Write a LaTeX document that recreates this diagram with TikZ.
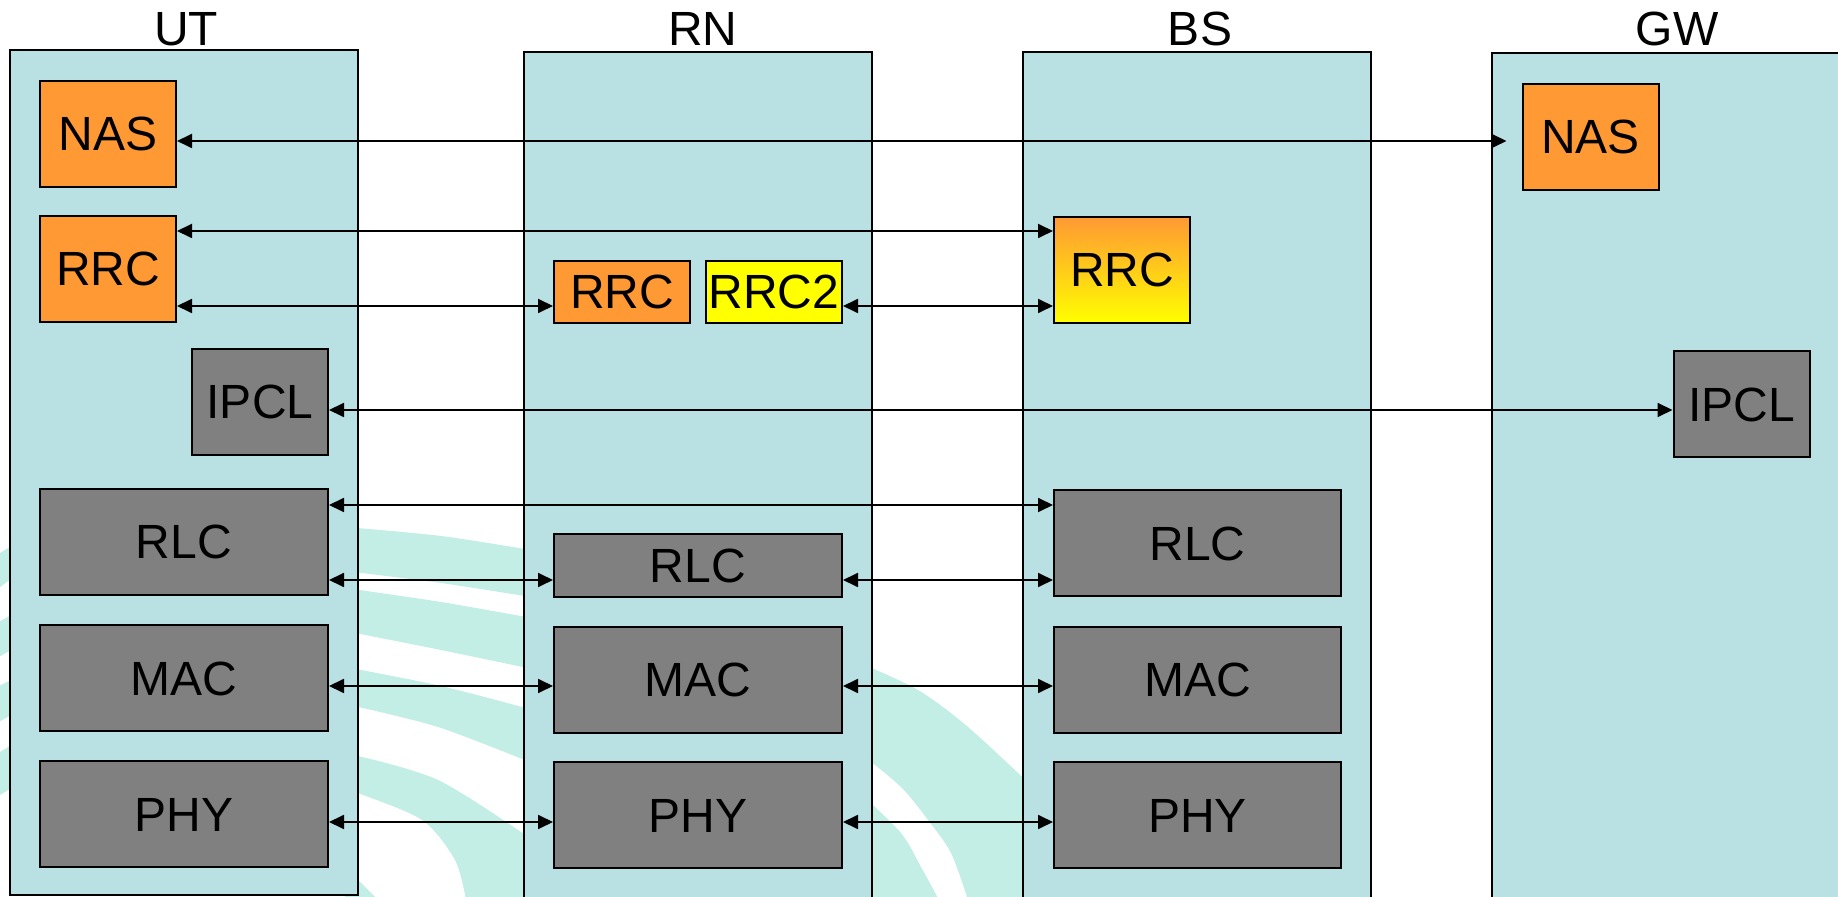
\documentclass[tikz,border=0pt]{standalone}
\usepackage{fontspec}
\setmainfont{Liberation Sans}
\usetikzlibrary{arrows.meta}
\definecolor{colbg}{HTML}{B9E0E3}
\definecolor{orng}{HTML}{FF9933}
\definecolor{gry}{HTML}{808080}
\definecolor{ylw}{HTML}{FFFF00}
\definecolor{wmark}{HTML}{C3EEE6}
\begin{document}
\begin{tikzpicture}[x=0.5pt,y=-0.5pt,
  bigfont/.style={font=\fontsize{24}{28}\selectfont},
  lbl/.style={bigfont, inner sep=0pt, anchor=base},
  col/.style={draw=black, line width=1pt, fill=colbg, inner sep=0pt},
  blk/.style={draw=black, line width=1pt, inner sep=0pt, bigfont},
  sq/.style={blk, minimum width=68pt, minimum height=53pt},
  wide/.style={blk, minimum width=144pt, minimum height=53pt},
  small/.style={blk, minimum width=68pt, minimum height=31pt},
  arr/.style={line width=0.9pt, {Triangle[length=7.5pt,width=7pt]}-{Triangle[length=7.5pt,width=7pt]}},
  wm/.style={fill=wmark}
]
\useasboundingbox (0,0) rectangle (1838,897);
\clip (0,0) rectangle (1838,897);
\fill[white] (0,0) rectangle (1838,897);

% watermark arcs (visible in the gaps)
\fill[wm] plot[smooth] coordinates {(345,527)(441,536)(537,551)} -- plot[smooth] coordinates {(537,598)(441,583)(345,571)} -- cycle;
\fill[wm] plot[smooth] coordinates {(345,588)(441,602)(537,619)} -- plot[smooth] coordinates {(537,670)(441,650)(345,631)} -- cycle;
\fill[wm] plot[smooth] coordinates {(345,667)(441,686)(537,711)} -- plot[smooth] coordinates {(537,765)(438,727)(345,704)} -- cycle;
\fill[wm] plot[smooth] coordinates {(345,753)(438,780)(537,843)} -- (537,900) -- plot[smooth] coordinates {(466,900)(455,860)(422,820)(358,793)(345,789)} -- cycle;
\fill[wm] (345,868) -- (358,880) -- (378,900) -- (345,900) -- cycle;
\fill[wm] plot[smooth] coordinates {(860,663)(918,690)(968,727)(1035,789)} -- (1035,900) -- plot[smooth] coordinates {(968,900)(951,853)(928,820)(901,787)(860,753)} -- cycle;
\fill[wm] plot[smooth] coordinates {(860,793)(901,833)(921,867)(939,900)} -- (860,900) -- cycle;
\fill[wm] (-5,556) -- (15,544) -- (15,576) -- (-5,591) -- cycle;
\fill[wm] (-5,624) -- (15,613) -- (15,648) -- (-5,659) -- cycle;
\fill[wm] (-5,688) -- (15,678) -- (15,713) -- (-5,724) -- cycle;
\fill[wm] (-5,755) -- (15,743) -- (15,786) -- (-5,798) -- cycle;

% columns
\node[col, minimum width=174pt, minimum height=422.5pt] (ut) at (184,472.5) {};
\node[col, minimum width=174pt, minimum height=426.5pt] (rn) at (698,478.5) {};
\node[col, minimum width=174pt, minimum height=426.5pt] (bs) at (1197,478.5) {};
\node[col, minimum width=176.5pt, minimum height=426pt] (gw) at (1668.5,479) {};

% column labels
\node[lbl] (utl) at (186,46) {UT};
\node[lbl] (rnl) at (703,46) {RN};
\node[lbl] (bsl) at (1200,46) {BS};
\node[lbl] (gwl) at (1677,46) {GW};

% UT stack
\node[sq, fill=orng] (utnas) at (108,134) {NAS};
\node[sq, fill=orng] (utrrc) at (108,269) {RRC};
\node[sq, fill=gry] (utipcl) at (260,402) {IPCL};
\node[wide, fill=gry] (utrlc) at (184,542) {RLC};
\node[wide, fill=gry] (utmac) at (184,678.5) {MAC};
\node[wide, fill=gry] (utphy) at (184,814.5) {PHY};

% RN stack
\node[small, fill=orng] (rnrrc) at (622,292) {RRC};
\node[small, fill=ylw] (rnrrc2) at (774,292) {RRC2};
\node[wide, fill=gry, minimum height=31.5pt] (rnrlc) at (698,565.5) {RLC};
\node[wide, fill=gry] (rnmac) at (698,680) {MAC};
\node[wide, fill=gry] (rnphy) at (698,815.5) {PHY};

% BS stack
\node[sq, top color=orng, bottom color=ylw, draw=black] (bsrrc) at (1122,270) {RRC};
\node[wide, fill=gry, minimum width=143.5pt] (bsrlc) at (1197.5,543.5) {RLC};
\node[wide, fill=gry, minimum width=143.5pt] (bsmac) at (1197.5,680) {MAC};
\node[wide, fill=gry, minimum width=143.5pt] (bsphy) at (1197.5,815.5) {PHY};

% GW stack
\node[sq, fill=orng] (gwnas) at (1590.5,137) {NAS};
\node[sq, fill=gry] (gwipcl) at (1741.5,404.5) {IPCL};

% connectors
\draw[arr, shorten >=7.5pt] (utnas.east |- 0,141) -- (gwnas.west |- 0,141);
\draw[arr] (utrrc.east |- 0,231) -- (bsrrc.west |- 0,231);
\draw[arr] (utrrc.east |- 0,306) -- (rnrrc.west |- 0,306);
\draw[arr] (rnrrc2.east |- 0,306) -- (bsrrc.west |- 0,306);
\draw[arr] (utipcl.east |- 0,410) -- (gwipcl.west |- 0,410);
\draw[arr] (utrlc.east |- 0,505) -- (bsrlc.west |- 0,505);
\draw[arr] (utrlc.east |- 0,580) -- (rnrlc.west |- 0,580);
\draw[arr] (rnrlc.east |- 0,580) -- (bsrlc.west |- 0,580);
\draw[arr] (utmac.east |- 0,686) -- (rnmac.west |- 0,686);
\draw[arr] (rnmac.east |- 0,686) -- (bsmac.west |- 0,686);
\draw[arr] (utphy.east |- 0,822) -- (rnphy.west |- 0,822);
\draw[arr] (rnphy.east |- 0,822) -- (bsphy.west |- 0,822);
\end{tikzpicture}
\end{document}
